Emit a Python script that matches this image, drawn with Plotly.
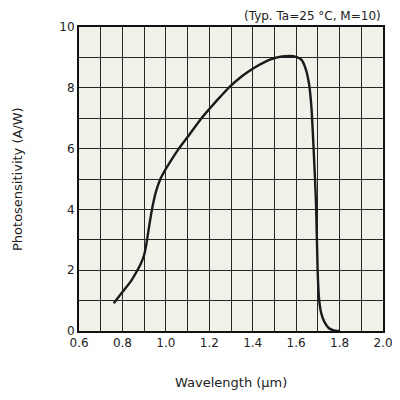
import plotly.graph_objects as go

wavelength = [0.76, 0.80, 0.84, 0.865, 0.885, 0.90, 0.91, 0.922, 0.936, 0.955, 0.975, 1.0,
              1.03, 1.06, 1.10, 1.164, 1.20, 1.25, 1.289, 1.35, 1.40, 1.45, 1.50, 1.57,
              1.60, 1.625, 1.645, 1.66, 1.67, 1.677, 1.685, 1.692, 1.699, 1.705,
              1.715, 1.73, 1.75, 1.77, 1.80]
sensitivity = [0.91, 1.28, 1.65, 1.95, 2.22, 2.5, 2.85, 3.4, 4.0, 4.6, 5.0, 5.33,
               5.68, 6.0, 6.38, 7.0, 7.3, 7.7, 8.0, 8.38, 8.63, 8.83, 8.98, 9.05,
               9.02, 8.92, 8.6, 8.1, 7.4, 6.5, 5.3, 4.09, 2.0, 1.1,
               0.6, 0.3, 0.1, 0.03, 0.0]

x_ticks = [0.6, 0.8, 1.0, 1.2, 1.4, 1.6, 1.8, 2.0]
x_tick_labels = ["0.6", "0.8", "1.0", "1.2", "1.4", "1.6", "1.8", "2.0"]
y_ticks = [0, 2, 4, 6, 8, 10]

font_family = "DejaVu Sans"

fig = go.Figure()
fig.add_trace(go.Scatter(
    x=wavelength, y=sensitivity, mode="lines",
    line=dict(color="#1a1a1a", width=2.4, shape="spline", smoothing=0.7),
    showlegend=False, hoverinfo="skip",
))

grid = dict(showgrid=True, gridcolor="#262626", gridwidth=1.3)

fig.update_layout(
    width=392, height=392,
    margin=dict(l=71, r=17, t=19, b=69, autoexpand=False),
    paper_bgcolor="white",
    plot_bgcolor="#f1f0e9",
    font=dict(family=font_family, size=12, color="#222"),
    xaxis=dict(
        range=[0.6, 2.0], tickvals=x_ticks, ticktext=x_tick_labels,
        minor=dict(dtick=0.1, **grid), **grid,
        showline=True, linecolor="#111", linewidth=2, mirror=True,
        ticks="", zeroline=False, automargin=False,
        tickfont=dict(size=12),
    ),
    yaxis=dict(
        range=[0, 10], tickvals=y_ticks,
        minor=dict(dtick=1, **grid), **grid,
        showline=True, linecolor="#111", linewidth=2, mirror=True,
        ticks="", zeroline=False, automargin=False,
        tickfont=dict(size=12),
    ),
    annotations=[
        dict(text="(Typ. Ta=25 °C, M=10)", xref="paper", yref="paper",
             x=1.0, y=1.0, xanchor="right", yanchor="bottom", yshift=2,
             showarrow=False, font=dict(size=12, color="#222")),
        dict(text="Wavelength (µm)", xref="paper", yref="paper",
             x=0.5, y=0, xanchor="center", yanchor="middle", yshift=-51,
             showarrow=False, font=dict(size=13, color="#222")),
        dict(text="Photosensitivity (A/W)", xref="paper", yref="paper",
             x=0, y=0.5, xanchor="center", yanchor="middle", xshift=-62,
             textangle=-90, showarrow=False, font=dict(size=13, color="#222")),
    ],
)

fig.write_html("out.html")
